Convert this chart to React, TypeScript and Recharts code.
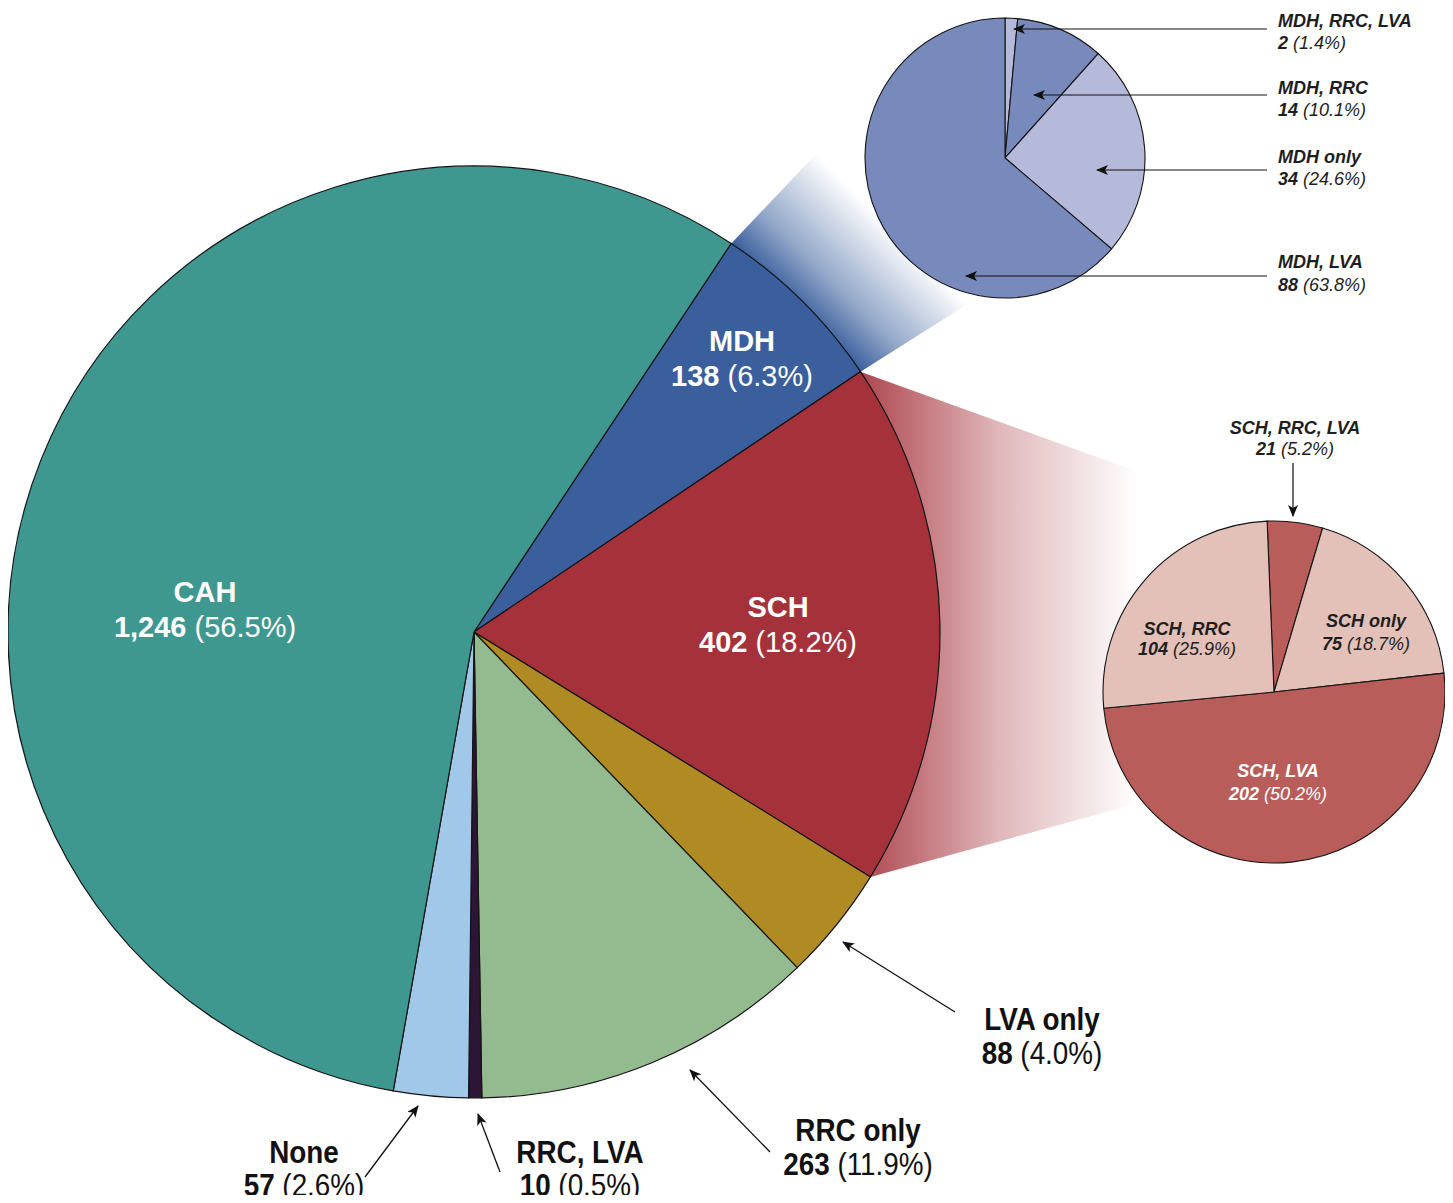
import React from 'react';
import { PieChart, Pie, Cell } from 'recharts';

// ---------- DATA ----------
// Main breakdown, listed clockwise starting at the CAH / MDH boundary
const mainNames = ['MDH', 'SCH', 'LVA only', 'RRC only', 'RRC, LVA', 'None', 'CAH'];
const mainCounts = [138, 402, 88, 263, 10, 57, 1246];
const mainPercents = ['6.3%', '18.2%', '4.0%', '11.9%', '0.5%', '2.6%', '56.5%'];

// MDH breakdown (clockwise from 12 o'clock)
const mdhNames = ['MDH, RRC, LVA', 'MDH, RRC', 'MDH only', 'MDH, LVA'];
const mdhCounts = [2, 14, 34, 88];
const mdhPercents = ['1.4%', '10.1%', '24.6%', '63.8%'];

// SCH breakdown (clockwise from 12 o'clock)
const schNames = ['SCH, RRC, LVA', 'SCH only', 'SCH, LVA', 'SCH, RRC'];
const schCounts = [21, 75, 202, 104];
const schPercents = ['5.2%', '18.7%', '50.2%', '25.9%'];

// ---------- STYLE / LAYOUT ----------
const W = 1453;
const H = 1203;

const mainColors = ['#3a5f9c', '#a5323b', '#b08a22', '#94bb90', '#2d1535', '#a2c8e9', '#3f9890'];
const mdhColors = ['#b5b9da', '#7889bb', '#b5b9da', '#7889bb'];
const schColors = ['#b95d5b', '#e3c0b8', '#b95d5b', '#e3c0b8'];

const MAIN = { cx: 474, cy: 632, r: 466, start: 56.5 };
const MDHP = { cx: 1005, cy: 158, r: 140, start: 90 };
const SCHP = { cx: 1274, cy: 692, r: 171, start: 92.3 };

const SANS = "'Liberation Sans', Arial, Helvetica, sans-serif";
const NARROW_SCALE = 0.87;

const mainData = mainNames.map((name, i) => ({ name, value: mainCounts[i], pct: mainPercents[i] }));
const mdhData = mdhNames.map((name, i) => ({ name, value: mdhCounts[i], pct: mdhPercents[i] }));
const schData = schNames.map((name, i) => ({ name, value: schCounts[i], pct: schPercents[i] }));

const fmt = (n: number) => n.toLocaleString('en-US');

// Label layout (text block anchor, two baselines)
type Lay = { x: number; y1: number; y2: number };
const mainInsideLayout: Record<string, Lay> = {
  CAH: { x: 205, y1: 602, y2: 637 },
  MDH: { x: 742, y1: 351, y2: 386 },
  SCH: { x: 778, y1: 617, y2: 652 },
};
const mainOutsideLayout: Record<string, Lay & { from: [number, number]; to: [number, number] }> = {
  'LVA only': { x: 1042, y1: 1030, y2: 1064, from: [955, 1012], to: [843, 942] },
  'RRC only': { x: 858, y1: 1141, y2: 1175, from: [770, 1152], to: [690, 1070] },
  'RRC, LVA': { x: 580, y1: 1163, y2: 1196, from: [500, 1172], to: [478, 1114] },
  None: { x: 304, y1: 1163, y2: 1196, from: [365, 1177], to: [418, 1106] },
};
const mdhLayout: Record<string, { y1: number; y2: number; arrowY: number; tipX: number }> = {
  'MDH, RRC, LVA': { y1: 26.5, y2: 48.5, arrowY: 29, tipX: 1014 },
  'MDH, RRC': { y1: 93.5, y2: 115.5, arrowY: 95, tipX: 1034 },
  'MDH only': { y1: 162.5, y2: 184.5, arrowY: 170, tipX: 1097 },
  'MDH, LVA': { y1: 267.5, y2: 290.5, arrowY: 276, tipX: 966 },
};
const MDH_LABEL_X = 1278;
const MDH_ARROW_X0 = 1267;

const schLayout: Record<string, { x: number; y1: number; y2: number; color: string }> = {
  'SCH, RRC, LVA': { x: 1295, y1: 433.5, y2: 455, color: '#1e1e1e' },
  'SCH only': { x: 1366, y1: 626.5, y2: 649.5, color: '#1e1e1e' },
  'SCH, LVA': { x: 1278, y1: 776.5, y2: 799.5, color: '#ffffff' },
  'SCH, RRC': { x: 1187, y1: 634.5, y2: 655, color: '#1e1e1e' },
};
const SCH_TOP_ARROW = { x: 1293, y0: 463, y1: 516 };

// ---------- GEOMETRY HELPERS ----------
const RAD = Math.PI / 180;
const polar = (cx: number, cy: number, r: number, deg: number): [number, number] => [
  cx + r * Math.cos(deg * RAD),
  cy - r * Math.sin(deg * RAD),
];
const mainTotal = mainCounts.reduce((a, b) => a + b, 0);
const mdhStartA = MAIN.start;
const mdhEndA = mdhStartA - (mainCounts[0] / mainTotal) * 360;
const schEndA = mdhEndA - (mainCounts[1] / mainTotal) * 360;

// ---------- DECORATION: zoom bands + arrow marker ----------
const Bands = () => {
  const b1 = polar(MAIN.cx, MAIN.cy, MAIN.r, mdhStartA);
  const b2 = polar(MAIN.cx, MAIN.cy, MAIN.r, mdhEndA);
  const b3 = polar(MDHP.cx, MDHP.cy, MDHP.r, -100);
  const b4 = polar(MDHP.cx, MDHP.cy, MDHP.r, 140);
  const bis = (mdhStartA + mdhEndA) / 2;
  const g0 = polar(MAIN.cx, MAIN.cy, MAIN.r * Math.cos(((mdhStartA - mdhEndA) / 2) * RAD), bis);
  const g1 = polar(MAIN.cx, MAIN.cy, MAIN.r + 115, bis);

  const r1 = b2;
  const r2 = polar(MAIN.cx, MAIN.cy, MAIN.r, schEndA);
  const r3 = polar(SCHP.cx, SCHP.cy, SCHP.r, -140);
  const r4 = polar(SCHP.cx, SCHP.cy, SCHP.r, 90);
  const rx0 = r1[0];
  const rx1 = SCHP.cx - SCHP.r * 0.8;

  return (
    <g>
      <defs>
        <linearGradient id="blueBand" gradientUnits="userSpaceOnUse" x1={g0[0]} y1={g0[1]} x2={g1[0]} y2={g1[1]}>
          <stop offset="0" stopColor="#3a5f9c" stopOpacity={1} />
          <stop offset="0.35" stopColor="#3a5f9c" stopOpacity={0.55} />
          <stop offset="1" stopColor="#3a5f9c" stopOpacity={0} />
        </linearGradient>
        <linearGradient id="redBand" gradientUnits="userSpaceOnUse" x1={rx0} y1={0} x2={rx1} y2={0}>
          <stop offset="0" stopColor="#a5323b" stopOpacity={0.9} />
          <stop offset="0.5" stopColor="#a5323b" stopOpacity={0.35} />
          <stop offset="1" stopColor="#a5323b" stopOpacity={0} />
        </linearGradient>
        <marker id="arrowHead" viewBox="0 0 12 10" refX="11" refY="5" markerWidth="12" markerHeight="10" markerUnits="userSpaceOnUse" orient="auto">
          <path d="M0,0 L12,5 L0,10 L3,5 Z" fill="#111" />
        </marker>
      </defs>
      <polygon points={[b1, b2, b3, b4].map((p) => p.join(',')).join(' ')} fill="url(#blueBand)" />
      <polygon points={[r1, r2, r3, r4].map((p) => p.join(',')).join(' ')} fill="url(#redBand)" />
    </g>
  );
};

// ---------- ANNOTATIONS (rendered through each Pie's label prop) ----------
const Arrow = ({ from, to, w = 1.3 }: { from: [number, number]; to: [number, number]; w?: number }) => (
  <line x1={from[0]} y1={from[1]} x2={to[0]} y2={to[1]} stroke="#111" strokeWidth={w} markerEnd="url(#arrowHead)" />
);

const getItem = (props: any) => {
  const p = props && props.payload ? props.payload : props;
  return { name: (p && p.name) ?? props.name, value: (p && p.value) ?? props.value, pct: p && p.pct };
};

const renderMainLabel = (props: any) => {
  const d = getItem(props);
  const inside = mainInsideLayout[d.name];
  if (inside) {
    return (
      <text key={d.name} textAnchor="middle" fill="#ffffff" fontSize={29} fontFamily={SANS}>
        <tspan x={inside.x} y={inside.y1} fontWeight="bold">{d.name}</tspan>
        <tspan x={inside.x} y={inside.y2} fontWeight="bold">{fmt(d.value)}</tspan>
        <tspan fontWeight="normal">{`\u00a0(${d.pct})`}</tspan>
      </text>
    );
  }
  const l = mainOutsideLayout[d.name];
  if (!l) return null;
  return (
    <g key={d.name}>
      <Arrow from={l.from} to={l.to} />
      <text
        textAnchor="middle"
        fill="#111"
        fontSize={32}
        fontFamily={SANS}
        transform={`translate(${l.x} 0) scale(${NARROW_SCALE} 1)`}
      >
        <tspan x={0} y={l.y1} fontWeight="bold">{d.name}</tspan>
        <tspan x={0} y={l.y2} fontWeight="bold">{fmt(d.value)}</tspan>
        <tspan fontWeight="normal">{`\u00a0(${d.pct})`}</tspan>
      </text>
    </g>
  );
};

const renderMdhLabel = (props: any) => {
  const d = getItem(props);
  const l = mdhLayout[d.name];
  if (!l) return null;
  return (
    <g key={d.name}>
      <Arrow from={[MDH_ARROW_X0, l.arrowY]} to={[l.tipX, l.arrowY]} w={1.2} />
      <text fill="#1e1e1e" fontSize={18} fontFamily={SANS} fontStyle="italic">
        <tspan x={MDH_LABEL_X} y={l.y1} fontWeight="bold">{d.name}</tspan>
        <tspan x={MDH_LABEL_X} y={l.y2} fontWeight="bold">{fmt(d.value)}</tspan>
        <tspan fontWeight="normal">{`\u00a0(${d.pct})`}</tspan>
      </text>
    </g>
  );
};

const renderSchLabel = (props: any) => {
  const d = getItem(props);
  const l = schLayout[d.name];
  if (!l) return null;
  return (
    <g key={d.name}>
      {d.name === 'SCH, RRC, LVA' && (
        <Arrow from={[SCH_TOP_ARROW.x, SCH_TOP_ARROW.y0]} to={[SCH_TOP_ARROW.x, SCH_TOP_ARROW.y1]} w={1.2} />
      )}
      <text textAnchor="middle" fill={l.color} fontSize={18} fontFamily={SANS} fontStyle="italic">
        <tspan x={l.x} y={l.y1} fontWeight="bold">{d.name}</tspan>
        <tspan x={l.x} y={l.y2} fontWeight="bold">{fmt(d.value)}</tspan>
        <tspan fontWeight="normal">{`\u00a0(${d.pct})`}</tspan>
      </text>
    </g>
  );
};

export default function App() {
  return (
    <div style={{ margin: -8, width: W, height: H, background: '#ffffff' }}>
      <PieChart width={W} height={H} margin={{ top: 0, right: 0, bottom: 0, left: 0 }}>
        <Bands />
        <Pie
          data={mainData}
          dataKey="value"
          nameKey="name"
          cx={MAIN.cx}
          cy={MAIN.cy}
          outerRadius={MAIN.r}
          innerRadius={0}
          startAngle={MAIN.start}
          endAngle={MAIN.start - 360}
          stroke="#141414"
          strokeWidth={1.2}
          isAnimationActive={false}
          labelLine={false}
          label={renderMainLabel}
        >
          {mainData.map((d, i) => (
            <Cell key={d.name} fill={mainColors[i]} />
          ))}
        </Pie>
        <Pie
          data={mdhData}
          dataKey="value"
          nameKey="name"
          cx={MDHP.cx}
          cy={MDHP.cy}
          outerRadius={MDHP.r}
          innerRadius={0}
          startAngle={MDHP.start}
          endAngle={MDHP.start - 360}
          stroke="#141414"
          strokeWidth={1.1}
          isAnimationActive={false}
          labelLine={false}
          label={renderMdhLabel}
        >
          {mdhData.map((d, i) => (
            <Cell key={d.name} fill={mdhColors[i]} />
          ))}
        </Pie>
        <Pie
          data={schData}
          dataKey="value"
          nameKey="name"
          cx={SCHP.cx}
          cy={SCHP.cy}
          outerRadius={SCHP.r}
          innerRadius={0}
          startAngle={SCHP.start}
          endAngle={SCHP.start - 360}
          stroke="#141414"
          strokeWidth={1.1}
          isAnimationActive={false}
          labelLine={false}
          label={renderSchLabel}
        >
          {schData.map((d, i) => (
            <Cell key={d.name} fill={schColors[i]} />
          ))}
        </Pie>
      </PieChart>
    </div>
  );
}
